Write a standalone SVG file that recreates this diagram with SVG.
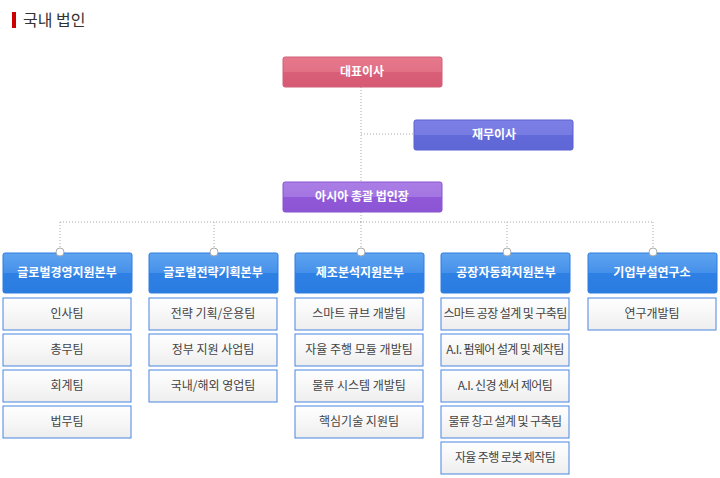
<svg xmlns="http://www.w3.org/2000/svg" width="720" height="478" viewBox="0 0 720 478">
<style>
text{font-family:"Noto Sans CJK KR","Noto Sans",sans-serif;text-anchor:middle}
.t{font-size:12px;fill:#fff;font-weight:bold}
.c{font-size:12px;fill:#444}
.cb{fill:url(#gc);stroke:#4a86e0;stroke-width:1}
.hb{fill:url(#gb);stroke:#2f7de0}
.ln{stroke:#aaa;stroke-dasharray:1 2;fill:none}
.dot{fill:#fff;stroke:#aaa}
</style>
<defs>
<linearGradient id="gr" x1="0" y1="0" x2="0" y2="1"><stop offset="0" stop-color="#e6788c"/><stop offset="0.5" stop-color="#e27186"/><stop offset="0.5" stop-color="#d95e78"/><stop offset="1" stop-color="#d65a74"/></linearGradient>
<linearGradient id="gv" x1="0" y1="0" x2="0" y2="1"><stop offset="0" stop-color="#7c80e6"/><stop offset="0.5" stop-color="#777be2"/><stop offset="0.5" stop-color="#6269d9"/><stop offset="1" stop-color="#5f66d6"/></linearGradient>
<linearGradient id="gp" x1="0" y1="0" x2="0" y2="1"><stop offset="0" stop-color="#ab7ee6"/><stop offset="0.5" stop-color="#a275e2"/><stop offset="0.5" stop-color="#9058d8"/><stop offset="1" stop-color="#8c55d4"/></linearGradient>
<linearGradient id="gb" x1="0" y1="0" x2="0" y2="1"><stop offset="0" stop-color="#5fa4f0"/><stop offset="0.5" stop-color="#4590ea"/><stop offset="0.5" stop-color="#2f80e4"/><stop offset="1" stop-color="#2a7ce0"/></linearGradient>
<linearGradient id="gc" x1="0" y1="0" x2="0" y2="1"><stop offset="0" stop-color="#fff"/><stop offset="1" stop-color="#eee"/></linearGradient>
</defs>
<rect x="12" y="12" width="4" height="16" fill="#c00"/>
<text x="23" y="26" style="text-anchor:start;font-size:16px;fill:#333">국내 법인</text>
<g id="connectors">
<path class="ln" d="M361 87V183M361 134H414M361 212V222M60 222H653M60 222V248M214 222V248M361 222V248M507 222V248M653 222V248"/>
</g>
<g id="ceo"><rect x="283" y="57" width="159" height="30" rx="2" fill="url(#gr)" stroke="#d0607a"/><text class="t" x="362" y="76">대표이사</text></g>
<g id="cfo"><rect x="414" y="120" width="159" height="30" rx="2" fill="url(#gv)" stroke="#5a60d0"/><text class="t" x="494" y="139">재무이사</text></g>
<g id="asia"><rect x="283" y="182" width="159" height="30" rx="2" fill="url(#gp)" stroke="#8a55d0"/><text class="t" x="362" y="201">아시아 총괄 법인장</text></g>
<g id="div1"><rect class="hb" x="3" y="253" width="129" height="40" rx="2"/><circle class="dot" cx="60" cy="252" r="4"/><text class="t" x="67" y="277">글로벌경영지원본부</text></g>
<g id="div2"><rect class="hb" x="149" y="253" width="129" height="40" rx="2"/><circle class="dot" cx="214" cy="252" r="4"/><text class="t" x="213" y="277">글로벌전략기획본부</text></g>
<g id="div3"><rect class="hb" x="295" y="253" width="129" height="40" rx="2"/><circle class="dot" cx="361" cy="252" r="4"/><text class="t" x="360" y="277">제조분석지원본부</text></g>
<g id="div4"><rect class="hb" x="441" y="253" width="129" height="40" rx="2"/><circle class="dot" cx="507" cy="252" r="4"/><text class="t" x="506" y="277">공장자동화지원본부</text></g>
<g id="div5"><rect class="hb" x="588" y="253" width="129" height="40" rx="2"/><circle class="dot" cx="653" cy="252" r="4"/><text class="t" x="652" y="277">기업부설연구소</text></g>
<g id="c1"><rect class="cb" x="3" y="298" width="128" height="32"/><text class="c" x="67" y="318">인사팀</text><rect class="cb" x="3" y="334" width="128" height="32"/><text class="c" x="67" y="354">총무팀</text><rect class="cb" x="3" y="370" width="128" height="32"/><text class="c" x="67" y="390">회계팀</text><rect class="cb" x="3" y="406" width="128" height="32"/><text class="c" x="67" y="426">법무팀</text></g>
<g id="c2"><rect class="cb" x="149" y="298" width="128" height="32"/><text class="c" x="213" y="318">전략 기획/운용팀</text><rect class="cb" x="149" y="334" width="128" height="32"/><text class="c" x="213" y="354">정부 지원 사업팀</text><rect class="cb" x="149" y="370" width="128" height="32"/><text class="c" x="213" y="390">국내/해외 영업팀</text></g>
<g id="c3"><rect class="cb" x="295" y="298" width="128" height="32"/><text class="c" x="359" y="318">스마트 큐브 개발팀</text><rect class="cb" x="295" y="334" width="128" height="32"/><text class="c" x="359" y="354">자율 주행 모듈 개발팀</text><rect class="cb" x="295" y="370" width="128" height="32"/><text class="c" x="359" y="390">물류 시스템 개발팀</text><rect class="cb" x="295" y="406" width="128" height="32"/><text class="c" x="359" y="426">핵심기술 지원팀</text></g>
<g id="c4" style="letter-spacing:-0.6px"><rect class="cb" x="441" y="298" width="128" height="32"/><text class="c" x="505" y="318">스마트 공장 설계 및 구축팀</text><rect class="cb" x="441" y="334" width="128" height="32"/><text class="c" x="505" y="354">A.I. 펌웨어 설계 및 제작팀</text><rect class="cb" x="441" y="370" width="128" height="32"/><text class="c" x="505" y="390">A.I. 신경 센서 제어팀</text><rect class="cb" x="441" y="406" width="128" height="32"/><text class="c" x="505" y="426">물류 창고 설계 및 구축팀</text><rect class="cb" x="441" y="442" width="128" height="32"/><text class="c" x="505" y="462">자율 주행 로봇 제작팀</text></g>
<g id="c5"><rect class="cb" x="588" y="298" width="128" height="32"/><text class="c" x="652" y="318">연구개발팀</text></g>
</svg>
